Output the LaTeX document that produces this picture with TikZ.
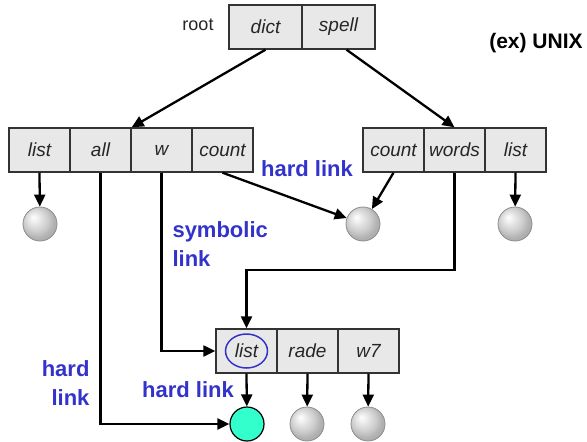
\documentclass[tikz,border=0pt]{standalone}
\usepackage{fontspec}
\setmainfont{Liberation Sans}
\usetikzlibrary{arrows.meta,shapes.geometric}
\definecolor{lnkblue}{RGB}{51,51,204}
\definecolor{hitgreen}{RGB}{51,255,204}
\pgfdeclareradialshading{greyball}{\pgfqpoint{-10bp}{10bp}}{color(0bp)=(white); color(9bp)=(black!10); color(18bp)=(black!20); color(25bp)=(black!30); color(50bp)=(black!45)}

\begin{document}
\begin{tikzpicture}[x=1pt,y=-1pt,
  cell/.style={rectangle, draw=black!80, line width=1.4pt, fill=black!9, minimum width=61pt, minimum height=44pt, inner sep=0pt, font=\fontsize{19}{21}\selectfont\itshape, text=black!85},
  file/.style={circle, minimum size=34pt, inner sep=0pt, draw=black!45, line width=0.8pt, shading=greyball},
  lnk/.style={font=\fontsize{22}{29}\selectfont\bfseries, text=lnkblue},
  ptr/.style={line width=2.3pt, -{Triangle[length=12pt,width=11pt]}}]
\useasboundingbox (0,0) rectangle (587,442);
\node[font=\fontsize{18}{20}\selectfont, text=black!85] (root) at (198,25){root};
\node[font=\fontsize{21}{23}\selectfont\bfseries] (unix) at (536,43){(ex) UNIX};
\node[cell, minimum width=73pt] (rt0) at (265.5,27){dict};
\node[cell, minimum width=73pt] (rt1) at (338.5,27){spell};
\node[cell] (dl0) at (39.5,150){list};
\node[cell] (dl1) at (100.5,150){all};
\node[cell] (dl2) at (161.5,150){w};
\node[cell] (dl3) at (222.5,150){count};
\node[cell] (dr0) at (393.5,150){count};
\node[cell] (dr1) at (454.5,150){words};
\node[cell] (dr2) at (515.5,150){list};
\node[cell] (db0) at (246.5,351){list};
\node[cell] (db1) at (307.5,351){rade};
\node[cell] (db2) at (368.5,351){w7};
\node[ellipse, draw=lnkblue, line width=1.5pt, minimum width=42pt, minimum height=34pt, inner sep=0pt] (sel) at (db0){};
\node[file] (fid0) at (40,224){};
\node[file] (fid1) at (363,224){};
\node[file] (fid2) at (515,224){};
\node[circle, minimum size=34pt, inner sep=0pt, draw=black, line width=1.2pt, fill=hitgreen] (fid3) at (247,424){};
\node[file] (fid4) at (307,424){};
\node[file] (fid5) at (368,424){};
\draw[ptr](rt0.south) -- (dl1.north east);
\draw[ptr]([xshift=8pt]rt1.south) -- (dr1.north);
\draw[ptr](dl0.south) -- (fid0);
\draw[ptr](dl3.south) -- (fid1);
\draw[ptr](dr0.south) -- (fid1);
\draw[ptr](dr2.south) -- (fid2);
\draw[ptr](dr1.south) -- ++(0,97) -| (db0.north);
\draw[ptr](dl2.south) |- (db0.west);
\draw[ptr](dl1.south) |- (fid3);
\draw[ptr](db0.south) -- (fid3);
\draw[ptr](db1.south) -- (fid4);
\draw[ptr](db2.south) -- (fid5);
\node[lnk] (hl0) at (307,169){hard link};
\node[lnk, align=left, anchor=west] (sl0) at (169,244){symbolic\\link};
\node[lnk, align=right, anchor=east] (hl1) at (93,383){hard\\link};
\node[lnk] (hl2) at (188,390){hard link};
\end{tikzpicture}
\end{document}
